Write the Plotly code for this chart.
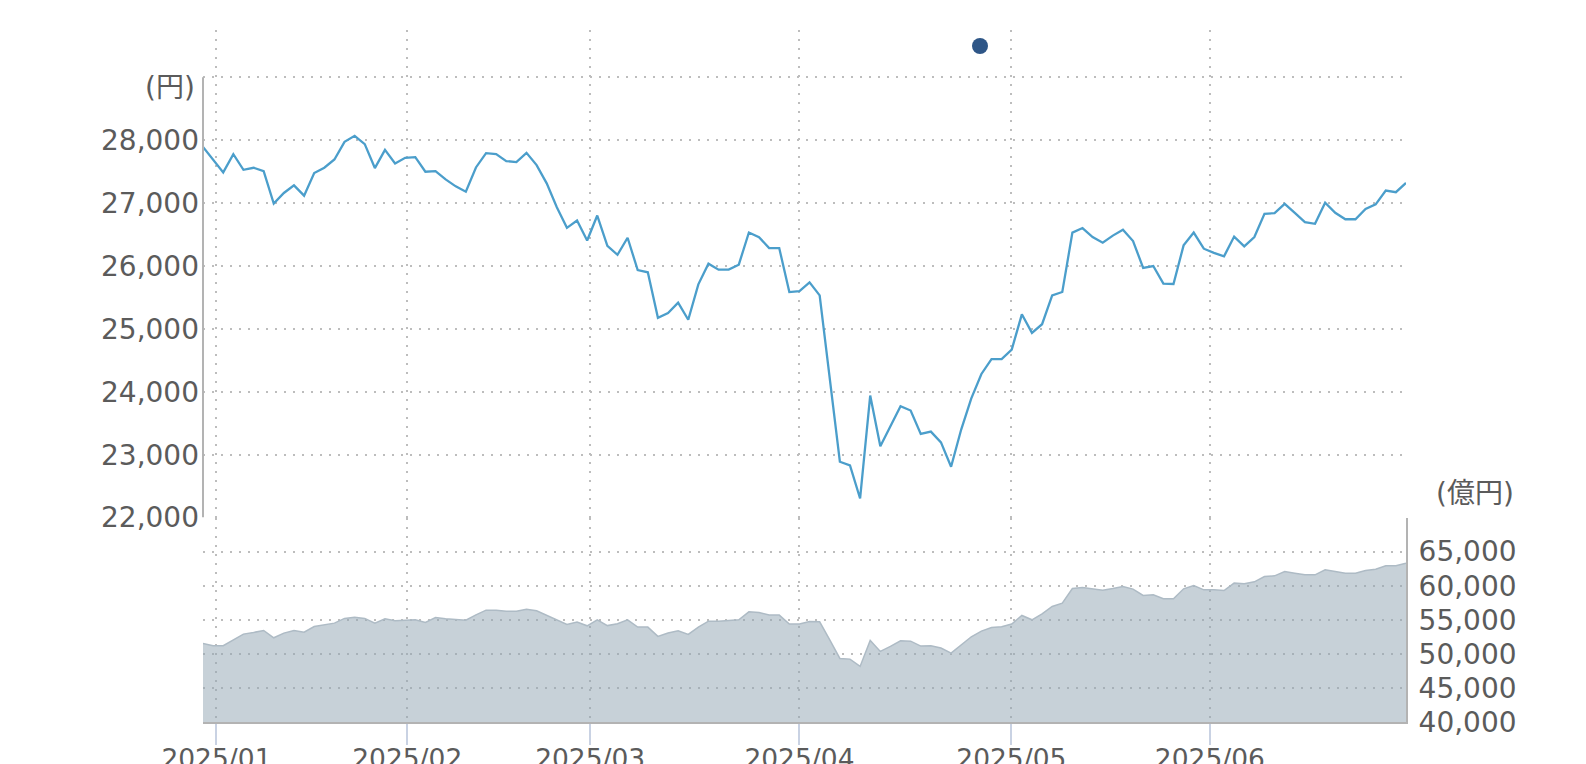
import plotly.graph_objects as go

# ---------------- data ----------------
month_labels = ["2025/01", "2025/02", "2025/03", "2025/04", "2025/05", "2025/06"]
month_tick_pos = [1.33, 20.2, 38.3, 59.0, 79.96, 99.6]   # position on the trading-day index axis

price = [
    27894, 27694, 27488, 27778, 27530, 27562, 27509, 26992, 27161, 27282,
    27119, 27478, 27562, 27694, 27974, 28069, 27937, 27557, 27847, 27631,
    27720, 27731, 27499, 27509, 27377, 27266, 27182, 27567, 27794, 27778,
    27668, 27652, 27799, 27604, 27314, 26934, 26607, 26723, 26406, 26802,
    26322, 26179, 26449, 25935, 25900, 25177, 25251, 25416, 25145, 25708,
    26037, 25942, 25942, 26021, 26533, 26459, 26285, 26285, 25586, 25602,
    25740, 25533, 24210, 22888, 22830, 22304, 23940, 23133, 23452, 23771,
    23702, 23330, 23367, 23196, 22808, 23400, 23896, 24284, 24518, 24520,
    24670, 25232, 24937, 25074, 25534, 25587, 26530, 26603, 26460, 26370,
    26483, 26576, 26397, 25970, 26000, 25720, 25714, 26328, 26531, 26275,
    26208, 26153, 26468, 26312, 26460, 26830, 26840, 26988, 26846, 26698,
    26671, 27006, 26846, 26743, 26743, 26906, 26980, 27200, 27174, 27321,
]

net_assets = [
    51530, 51190, 51190, 52070, 52900, 53140, 53440, 52360, 53050, 53440,
    53190, 54020, 54220, 54510, 55200, 55390, 55200, 54510, 55150, 54850,
    54950, 55000, 54610, 55340, 55150, 55050, 54950, 55730, 56420, 56420,
    56270, 56270, 56560, 56320, 55690, 55000, 54320, 54660, 54120, 55000,
    54150, 54410, 55000, 53930, 53930, 52560, 53050, 53390, 52850, 53930,
    54800, 54800, 54850, 55000, 56170, 56080, 55690, 55690, 54370, 54370,
    54760, 54710, 52070, 49330, 49230, 48160, 51970, 50360, 51090, 51920,
    51870, 51140, 51190, 50850, 50110, 51330, 52510, 53340, 53880, 53970,
    54390, 55640, 55000, 55880, 56960, 57440, 59590, 59740, 59500, 59350,
    59590, 59890, 59500, 58570, 58670, 58080, 58080, 59550, 60030, 59400,
    59400, 59300, 60380, 60280, 60570, 61350, 61450, 62090, 61840, 61600,
    61600, 62330, 62090, 61840, 61840, 62230, 62430, 62920, 62920, 63310,
]

price_ticks = [22000, 23000, 24000, 25000, 26000, 27000, 28000, 29000]
price_tick_text = ["22,000", "23,000", "24,000", "25,000", "26,000", "27,000", "28,000", ""]
asset_ticks = [40000, 45000, 50000, 55000, 60000, 65000]
asset_tick_text = ["40,000", "45,000", "50,000", "55,000", "60,000", "65,000"]

x_idx = list(range(len(price)))

# ---------------- style ----------------
FONT = "DejaVu Sans, Noto Sans CJK JP, sans-serif"
TXT = "#5b5b5b"
GRID = "#bdbdbd"
AXIS = "#b3b3b3"
W, H = 1586, 764
ML, MR, MT, MB = 203, 180, 30, 42
plot_h = H - MT - MB
split = (722 - 517.6) / plot_h  # boundary between the two panes

fig = go.Figure()

fig.add_trace(go.Scatter(
    x=x_idx, y=net_assets, xaxis="x", yaxis="y2", mode="lines",
    fill="tozeroy", fillcolor="rgba(147,167,181,0.52)",
    line=dict(color="#aebbc5", width=1.5), showlegend=False, hoverinfo="skip",
))
fig.add_trace(go.Scatter(
    x=x_idx, y=price, xaxis="x", yaxis="y", mode="lines",
    line=dict(color="#4b9ecb", width=2.3), showlegend=False,
))
fig.add_trace(go.Scatter(
    x=[None], y=[None], xaxis="x", yaxis="y", mode="markers",
    marker=dict(color="#2e5687", size=18), name="", showlegend=True,
))

grid = dict(showgrid=True, gridcolor=GRID, gridwidth=2, griddash="2px,7px")

fig.update_layout(
    width=W, height=H,
    margin=dict(l=ML, r=MR, t=MT, b=MB, pad=0, autoexpand=False),
    paper_bgcolor="white", plot_bgcolor="white",
    font=dict(family=FONT, size=28, color=TXT),
    xaxis=dict(
        range=[0, len(price) - 1], anchor="y2", automargin=False,
        tickmode="array", tickvals=month_tick_pos, ticktext=month_labels,
        tickfont=dict(size=26.5), ticklabelstandoff=-9,
        ticks="outside", ticklen=21, tickwidth=2, tickcolor="#c9d2e3",
        showline=True, linecolor=AXIS, linewidth=2, zeroline=False,
        **grid,
    ),
    yaxis=dict(
        domain=[split, 1], range=[22000, 29752], anchor="x", automargin=False,
        tickmode="array", tickvals=price_ticks, ticktext=price_tick_text,
        ticks="", ticklabelstandoff=3, showline=False, zeroline=False,
        **grid,
    ),
    yaxis2=dict(
        domain=[0, split], range=[40000, 70000], anchor="x", side="right",
        automargin=False,
        tickmode="array", tickvals=asset_ticks, ticktext=asset_tick_text,
        ticks="", ticklabelstandoff=5, showline=True, linecolor=AXIS, linewidth=2,
        zeroline=False, **grid,
    ),
    shapes=[dict(
        type="line", xref="x domain", x0=0, x1=0, yref="y",
        y0=price_ticks[0], y1=price_ticks[-1],
        line=dict(color=AXIS, width=2), layer="above",
    )],
    annotations=[
        dict(text="(円)", xref="paper", x=0, xanchor="right", xshift=-6,
             yref="y", y=price_ticks[-1], yanchor="middle", yshift=-10,
             showarrow=False, font=dict(family=FONT, size=28, color=TXT)),
        dict(text="(億円)", xref="paper", x=1, xanchor="left", xshift=28,
             yref="y2", y=70000, yanchor="middle", yshift=24,
             showarrow=False, font=dict(family=FONT, size=28, color=TXT)),
    ],
    legend=dict(
        x=(980 - 20 - ML) / (W - ML - MR), y=(722 - 46) / plot_h,
        xanchor="left", yanchor="middle", bgcolor="rgba(0,0,0,0)",
        font=dict(size=12), itemsizing="trace",
    ),
)

fig.write_html(
    "out.html",
    config={"displayModeBar": False},
    post_script="document.body.style.margin='0';document.body.style.overflow='hidden';",
)
